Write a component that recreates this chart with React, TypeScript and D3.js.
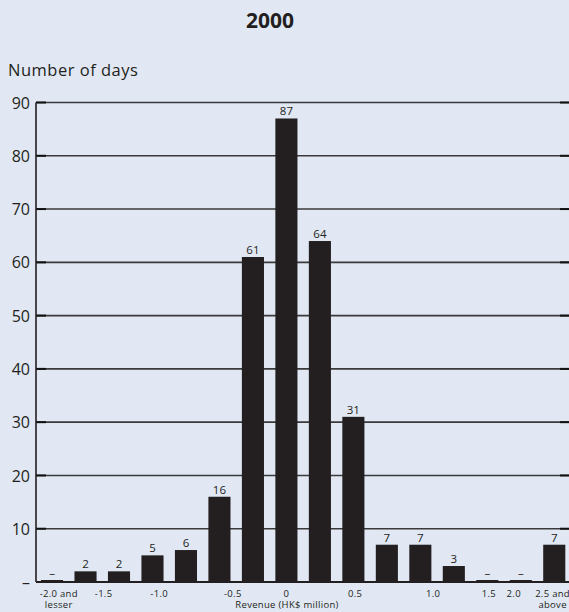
import React from "react";
import * as d3 from "d3";

const categories = [
  "-2.0 and lesser", "-1.75", "-1.5", "-1.25", "-1.0", "-0.75", "-0.5", "0",
  "0.25", "0.5", "0.75", "1.0", "1.25", "1.5", "2.0", "2.5 and above",
];
const values = [0, 2, 2, 5, 6, 16, 61, 87, 64, 31, 7, 7, 3, 0, 0, 7];
const yTicks = [0, 10, 20, 30, 40, 50, 60, 70, 80, 90];
const xTickLabels = [
  ["-2.0 and", "lesser"], ["-1.5"], ["-1.0"], ["-0.5"], ["0"], ["0.5"],
  ["1.0"], ["1.5"], ["2.0"], ["2.5 and", "above"],
];
const xTickPositions = [0.2, 1.54, 3.2, 5.4, 7.0, 9.05, 11.38, 13.05, 13.79, 14.95];

const W = 569;
const H = 612;
const FONT = "'Open Sans', 'DejaVu Sans', sans-serif";

export default function App() {
  const left = 36;
  const right = 571;
  const top = 102.5;
  const bottom = 582;

  const x = d3.scaleBand<string>().domain(categories).range([left - 0.7, right]).paddingInner(0.34).paddingOuter(0.17);
  const step = x.step();
  const y = d3.scaleLinear().domain([0, 90]).range([bottom, top]);
  const posX = (p: number) => (x(categories[0]) as number) + x.bandwidth() / 2 + p * step;

  return (
    <svg width={W} height={H} style={{ position: "absolute", left: 0, top: 0, background: "#e1e8f4" }}>
      <rect x={0} y={0} width={W} height={H} fill="#e1e8f4" />
      <text x={270} y={28} textAnchor="middle" fontFamily={FONT} fontWeight={700} fontSize={21} fill="#231f20">2000</text>
      <text x={8} y={76} fontFamily={FONT} fontSize={16.5} letterSpacing={0.5} fill="#231f20">Number of days</text>

      {yTicks.map((t) => (
        <g key={t}>
          {t > 0 && <line x1={left} x2={W} y1={y(t)} y2={y(t)} stroke="#3a3a3a" strokeWidth={1.6} />}
          {t > 0 && <line x1={left} x2={left + 10} y1={y(t)} y2={y(t)} stroke="#111" strokeWidth={2} />}
          {t > 0 && <line x1={W - 9} x2={W} y1={y(t)} y2={y(t)} stroke="#111" strokeWidth={2} />}
          <text x={30} y={y(t)} dy="0.38em" textAnchor="end" fontFamily={FONT} fontSize={16} fill="#231f20">
            {t === 0 ? "–" : t}
          </text>
        </g>
      ))}

      {categories.map((c, i) => {
        const v = values[i];
        const h = Math.max(bottom - y(v), 2);
        return (
          <g key={c}>
            <rect x={x(c)} y={bottom - h} width={x.bandwidth()} height={h} fill="#231f20" />
            <text x={(x(c) as number) + x.bandwidth() / 2} y={bottom - h - 3} textAnchor="middle" fontFamily={FONT} fontSize={11.5} fill="#231f20">
              {v === 0 ? "–" : v}
            </text>
          </g>
        );
      })}

      <line x1={left} x2={left} y1={top} y2={bottom} stroke="#231f20" strokeWidth={1.6} />
      <line x1={left} x2={W} y1={bottom} y2={bottom} stroke="#231f20" strokeWidth={1.8} />

      {xTickLabels.map((lines, i) => (
        <text key={i} x={posX(xTickPositions[i])} y={596.5} textAnchor="middle" fontFamily={FONT} fontSize={9.5} letterSpacing={0.3} fill="#231f20">
          {lines.map((l, j) => (
            <tspan key={j} x={posX(xTickPositions[i])} dy={j === 0 ? 0 : 11}>{l}</tspan>
          ))}
        </text>
      ))}
      <text x={287} y={607.5} textAnchor="middle" fontFamily={FONT} fontSize={9.5} letterSpacing={0.3} fill="#231f20">Revenue (HK$ million)</text>
    </svg>
  );
}
